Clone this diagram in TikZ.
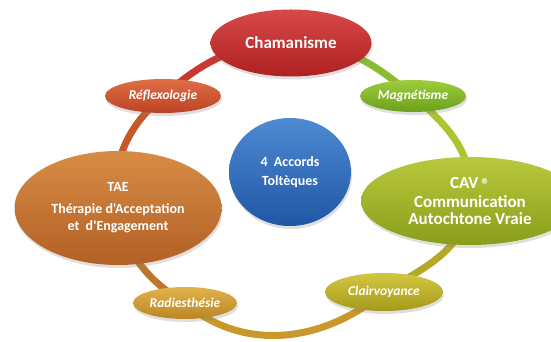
\documentclass[tikz,border=0pt]{standalone}
\usepackage{fontspec}
\setmainfont{Carlito}[Ligatures=TeXOff]
\usetikzlibrary{shapes.geometric,shadows,backgrounds}
\definecolor{chamT}{RGB}{215,72,72}
\definecolor{chamB}{RGB}{175,32,34}
\definecolor{reflT}{RGB}{225,110,70}
\definecolor{reflB}{RGB}{188,66,36}
\definecolor{magnT}{RGB}{158,205,60}
\definecolor{magnB}{RGB}{108,160,28}
\definecolor{taeT}{RGB}{215,140,70}
\definecolor{taeB}{RGB}{178,96,36}
\definecolor{cavT}{RGB}{185,200,60}
\definecolor{cavB}{RGB}{138,158,28}
\definecolor{blueT}{RGB}{78,138,210}
\definecolor{blueB}{RGB}{32,86,166}
\definecolor{radiT}{RGB}{225,178,75}
\definecolor{radiB}{RGB}{186,134,36}
\definecolor{clairT}{RGB}{210,198,65}
\definecolor{clairB}{RGB}{166,154,28}
\definecolor{segA}{RGB}{200,55,48}
\definecolor{segB}{RGB}{198,88,42}
\definecolor{segC}{RGB}{190,118,42}
\definecolor{segD}{RGB}{200,152,42}
\definecolor{segE}{RGB}{180,168,38}
\definecolor{segF}{RGB}{172,196,50}
\definecolor{segG}{RGB}{138,188,46}
\begin{document}
\begin{tikzpicture}[x=1pt,y=1pt,
  bub/.style={ellipse, inner sep=0pt, text=white, align=center,
    drop shadow={opacity=0.25,shadow xshift=1pt,shadow yshift=-3pt}},
  glossy/.style 2 args={top color=#1, bottom color=#2},
  ring/.style={line width=7pt},
  big/.style={font=\bfseries\fontsize{17}{17}\selectfont},
  mid/.style={font=\bfseries\fontsize{14}{17}\selectfont},
  small/.style={font=\bfseries\itshape\fontsize{13.5}{15}\selectfont}]
\useasboundingbox (0,0) rectangle (551,342);
\clip (0,0) rectangle (551,342);
\node[bub, glossy={chamT}{chamB}, big, minimum width=161, minimum height=67] (cham) at (291,299) {Chamanisme};
\node[bub, glossy={reflT}{reflB}, small, minimum width=116, minimum height=34] (refl) at (163,246) {Réflexologie};
\node[bub, glossy={magnT}{magnB}, small, minimum width=106, minimum height=32] (magn) at (413,246) {Magnétisme};
\node[bub, glossy={taeT}{taeB}, mid, minimum width=207, minimum height=114] (tae) at (118,134)
  {TAE\\[5pt]Thérapie d'Acceptation\\et\ \ d'Engagement};
\node[bub, glossy={cavT}{cavB}, big, minimum width=218, minimum height=88] (cav) at (470,141)
  {CAV\,\raisebox{-2pt}{®}\\[2pt]Communication\\Autochtone Vraie};
\node[bub, glossy={blueT}{blueB}, mid, minimum width=122, minimum height=108] (core) at (290,170)
  {4\ \ Accords\\[2pt]Toltèques};
\node[bub, glossy={radiT}{radiB}, small, minimum width=104, minimum height=32] (radi) at (185,39) {Radiesthésie};
\node[bub, glossy={clairT}{clairB}, small, minimum width=118, minimum height=38] (clair) at (384,50) {Clairvoyance};
\begin{scope}[on background layer]
\draw[ring, draw=segA] (cham.center) to[out=180,in=41] (refl.center);
\draw[ring, draw=segB] (refl.center) to[out=221,in=99] (tae.center);
\draw[ring, draw=segC] (tae.center) to[out=279,in=149] (radi.center);
\draw[ring, draw=segD] (radi.center) to[out=320,in=220] (clair.center);
\draw[ring, draw=segE] (clair.center) to[out=31,in=264] (cav.center);
\draw[ring, draw=segF] (cav.center) to[out=84,in=320] (magn.center);
\draw[ring, draw=segG] (magn.center) to[out=140,in=0] (cham.center);
\end{scope}
\end{tikzpicture}
\end{document}
